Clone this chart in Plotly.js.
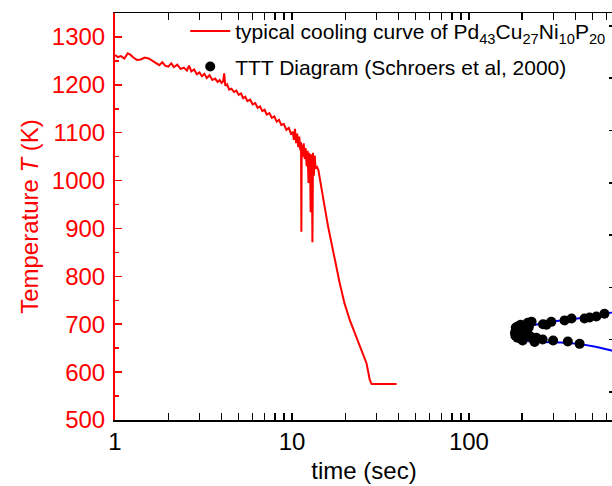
<!DOCTYPE html>
<html><head><meta charset="utf-8">
<script src="https://cdn.plot.ly/plotly-3.0.1.min.js"></script>
<style>html,body{margin:0;padding:0;overflow:hidden;background:#fff}</style>
</head><body><div id="chart" style="width:620px;height:486px"></div>
<script>
// Cooling curve (time in s, temperature in K)
const coolTime = [1.00,1.04,1.08,1.13,1.18,1.22,1.27,1.33,1.40,1.47,1.55,1.62,1.70,1.78,1.85,1.92,2.00,2.08,2.15,2.25,2.35,2.45,2.55,2.62,2.70,2.80,2.90,3.00,3.10,3.20,3.30,3.42,3.55,3.68,3.80,3.90,4.00,4.08,4.14,4.20,4.30,4.42,4.55,4.70,4.85,5.00,5.15,5.30,5.45,5.60,5.80,6.00,6.20,6.40,6.60,6.80,7.00,7.20,7.45,7.70,7.95,8.20,8.45,8.70,9.00,9.30,9.60,9.90,10.10,10.25,10.40,10.55,10.70,10.85,11.00,11.15,11.25,11.30,11.35,11.50,11.65,11.80,11.95,12.10,12.25,12.40,12.50,12.65,12.75,12.85,12.95,13.05,13.15,13.30,13.45,13.60,13.80,14.10,14.70,15.30,16.00,16.50,17.10,17.50,18.60,19.80,21.20,23.10,25.30,26.40,27.50,28.20,32.00,36.00,39.00];
const coolTemp = [1262,1258,1260,1255,1266,1263,1257,1252,1253,1257,1255,1251,1245,1241,1247,1240,1238,1245,1237,1242,1233,1236,1230,1240,1228,1232,1222,1226,1218,1223,1214,1220,1210,1213,1206,1210,1204,1207,1224,1198,1201,1190,1192,1185,1188,1179,1182,1172,1175,1166,1169,1159,1162,1152,1155,1145,1148,1138,1141,1131,1134,1123,1127,1116,1118,1106,1110,1096,1102,1085,1108,1078,1098,1070,1092,1063,1080,893,1075,1050,1078,1045,1068,1030,1062,995,1058,1040,934,1055,1035,871,1058,1010,1052,1025,1030,1022,987,945,904,877,848,834,786,744,709,674,639,618,584,575,575,575,575];

// TTT diagram points (Schroers et al, 2000)
const tttTime = [182,183,184,186,188,190,193,196,198,201,204,207,211,215,218,220,224,226,230,235,240,261,299,362,422,262,274,292,347,380,450,481,525,583];
const tttTemp = [682,676,693,688,672,696,680,699,670,666,686,689,676,703,694,676,704,705,669,663,672,668,666,664,659,700,699,705,708,712,712,714,716,722];

// TTT curve (blue line)
const fitTime = [900,640,580,480,380,290,230,200,185,182,190,215,260,330,420,520,640,900];
const fitTemp = [733,724,722,715,711,705,698,692,686,680,672,665,663,662,659,653,645,630];

const legendCool = 'typical cooling curve of Pd<sub>43</sub>Cu<sub>27</sub>Ni<sub>10</sub>P<sub>20</sub>';
const legendTTT = 'TTT Diagram (Schroers et al, 2000)';

const minorX = [];
for (const d of [1, 10, 100]) for (let k = 2; k <= 9; k++) minorX.push(k * d);

const traces = [
  {x: coolTime, y: coolTemp, type: 'scatter', mode: 'lines', name: legendCool,
   line: {color: '#ff0000', width: 2}, legendgroup: 'a'},
  {x: fitTime, y: fitTemp, type: 'scatter', mode: 'lines', showlegend: false,
   line: {color: '#0000ff', width: 2}},
  {x: tttTime, y: tttTemp, type: 'scatter', mode: 'markers', name: legendTTT,
   marker: {color: '#000000', size: 10}, legendgroup: 'b'},
  {x: [], y: [], yaxis: 'y2', type: 'scatter', mode: 'lines', showlegend: false, hoverinfo: 'skip'}
];

const font = 'Liberation Sans, Arial, sans-serif';
const layout = {
  width: 620, height: 486,
  margin: {l: 115, r: 7, t: 13, b: 66},
  paper_bgcolor: '#fff', plot_bgcolor: '#fff',
  font: {family: font, color: '#000'},
  showlegend: true,
  legend: {x: 0.141, y: 1.005, xanchor: 'left', yanchor: 'top', bgcolor: 'rgba(0,0,0,0)',
           itemwidth: 40,
           font: {size: 21, color: '#000', family: font}, traceorder: 'grouped', tracegroupgap: 5},
  xaxis: {type: 'log', range: [0, 2.814], dtick: 1, showgrid: false, zeroline: false,
          showline: true, linecolor: '#000', linewidth: 1.5, mirror: 'allticks',
          ticks: 'inside', ticklen: 7, tickwidth: 1.5, tickcolor: '#000',
          tickfont: {size: 24, color: '#000'},
          minor: {tickvals: minorX, ticks: 'inside', ticklen: 4, tickwidth: 1.5, tickcolor: '#000'},
          title: {text: 'time (sec)', font: {size: 24, color: '#000'}, standoff: 8},
          automargin: false},
  yaxis: {range: [500, 1350], dtick: 100, tick0: 0, showgrid: false, zeroline: false,
          showline: true, linecolor: '#ff0000', linewidth: 2,
          ticks: 'inside', ticklen: 7, tickwidth: 1.5, tickcolor: '#ff0000',
          tickfont: {size: 24, color: '#ff0000'}, ticklabelstandoff: 3,
          minor: {dtick: 50, ticks: 'inside', ticklen: 4, tickwidth: 1.5, tickcolor: '#ff0000'},
          title: {text: 'Temperature <i>T</i> (K)', font: {size: 24, color: '#ff0000'}, standoff: 6},
          automargin: false},
  yaxis2: {overlaying: 'y', side: 'right', range: [0, 7.78], tick0: 0.535, dtick: 1,
           ticks: 'inside', ticklen: 4, tickwidth: 1.5, tickcolor: '#000',
           showticklabels: false, showgrid: false, zeroline: false, showline: false}
};

Plotly.newPlot('chart', traces, layout, {displayModeBar: false, staticPlot: true});
</script></body></html>
